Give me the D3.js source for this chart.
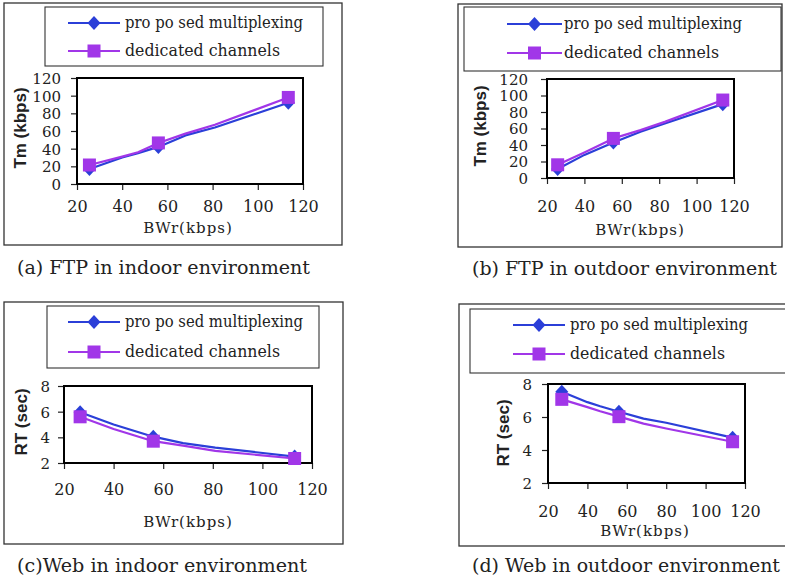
<!DOCTYPE html>
<html>
<head>
<meta charset="utf-8">
<script src="https://cdn.jsdelivr.net/npm/d3@7"></script>
<style>
  body { margin: 0; background: #fff; }
  svg { display: block; }
</style>
</head>
<body>
<svg id="chart" width="785" height="580"></svg>
<script>
// series names
var seriesNames = ["pro po sed multiplexing", "dedicated channels"];

// (a) FTP indoor
var ftpInBw  = [25.5, 40, 47, 56, 68, 81, 113.5];
var ftpInMux = [17, 30, 35, 42, 55, 64, 92];
var ftpInDed = [21.5, 31, 36, 46.5, 57, 67, 98];
var ftpInMarks = [0, 3, 6];

// (b) FTP outdoor
var ftpOutBw  = [25.7, 40, 55.5, 70, 83, 114];
var ftpOutMux = [11, 28, 43, 56, 66, 89.5];
var ftpOutDed = [16, 31, 48, 58, 68, 94.5];
var ftpOutMarks = [0, 2, 5];

// (c) Web indoor
var webInBw  = [26.5, 40, 56, 68, 81, 113];
var webInMux = [5.95, 5.0, 4.05, 3.55, 3.2, 2.5];
var webInDed = [5.6, 4.65, 3.7, 3.35, 2.95, 2.35];
var webInMarks = [0, 2, 5];

// (d) Web outdoor
var webOutBw  = [27, 40, 46.5, 56, 68.5, 80, 113.7];
var webOutMux = [7.53, 6.9, 6.65, 6.32, 5.9, 5.65, 4.75];
var webOutDed = [7.07, 6.6, 6.35, 6.02, 5.6, 5.3, 4.5];
var webOutMarks = [0, 3, 6];

var xTicks = [20, 40, 60, 80, 100, 120];
var tmTicks = [0, 20, 40, 60, 80, 100, 120];
var rtTicks = [2, 4, 6, 8];

var blue = "#2b3fd8", purple = "#a136e8";

var panels = [
  { bw: ftpInBw, mux: ftpInMux, ded: ftpInDed, marks: ftpInMarks,
    yDom: [0, 120], yTicks: tmTicks, yTitle: "Tm (kbps)",
    caption: "(a) FTP in indoor environment",
    frame: [4, 3, 342, 245], legend: [45, 7, 323, 66], rows: [23, 51], lx: [68, 120, 125],
    plot: [77, 78, 303, 184], xPad: 11, yPad: 10,
    yt: [20, 128], xt: [188, 233], cap: [17, 274, 293] },
  { bw: ftpOutBw, mux: ftpOutMux, ded: ftpOutDed, marks: ftpOutMarks,
    yDom: [0, 120], yTicks: tmTicks, yTitle: "Tm (kbps)",
    caption: "(b) FTP in outdoor environment",
    frame: [458, 4, 782, 247], legend: [464, 7, 781, 71], rows: [24, 53], lx: [507, 562, 564],
    plot: [547, 79, 734, 178], xPad: 17, yPad: 13,
    yt: [480, 126], xt: [640, 235], cap: [472, 275, 305] },
  { bw: webInBw, mux: webInMux, ded: webInDed, marks: webInMarks,
    yDom: [2, 8], yTicks: rtTicks, yTitle: "RT (sec)",
    caption: "(c)Web in indoor environment",
    frame: [4, 302, 343, 544], legend: [47, 306, 319, 368], rows: [322, 352], lx: [68, 120, 125],
    plot: [64, 386, 312, 463], xPad: 15, yPad: 8,
    yt: [21, 422], xt: [188, 527], cap: [17, 572, 290] },
  { bw: webOutBw, mux: webOutMux, ded: webOutDed, marks: webOutMarks,
    yDom: [2, 8], yTicks: rtTicks, yTitle: "RT (sec)",
    caption: "(d) Web in outdoor environment",
    frame: [459, 304, 790, 546], legend: [470, 309, 790, 373], rows: [325, 354], lx: [513, 565, 570],
    plot: [548, 384, 745, 483], xPad: 17, yPad: 10,
    yt: [503, 433], xt: [645, 536], cap: [472, 572, 308] }
];

var svg = d3.select("#chart");
var serif = "'DejaVu Serif', serif";
var sans = "'Liberation Sans', Arial, sans-serif";

function marker(g, kind, cx, cy, color) {
  if (kind == 0) {
    g.append("path")
      .attr("d", "M" + cx + "," + (cy - 7) + "L" + (cx + 6.5) + "," + cy + "L" + cx + "," + (cy + 7) + "L" + (cx - 6.5) + "," + cy + "Z")
      .attr("fill", color);
  } else {
    g.append("rect")
      .attr("x", cx - 6.5).attr("y", cy - 6.5)
      .attr("width", 13).attr("height", 13)
      .attr("fill", color);
  }
}

panels.forEach(function(p) {
  var g = svg.append("g");

  // outer frame
  g.append("rect")
    .attr("x", p.frame[0]).attr("y", p.frame[1])
    .attr("width", p.frame[2] - p.frame[0]).attr("height", p.frame[3] - p.frame[1])
    .attr("fill", "none").attr("stroke", "#333").attr("stroke-width", 1.3);

  // legend
  g.append("rect")
    .attr("x", p.legend[0]).attr("y", p.legend[1])
    .attr("width", p.legend[2] - p.legend[0]).attr("height", p.legend[3] - p.legend[1])
    .attr("fill", "none").attr("stroke", "#333").attr("stroke-width", 1.1);

  var legWidths = [178, 155];
  [blue, purple].forEach(function(c, i) {
    var ry = p.rows[i];
    g.append("line")
      .attr("x1", p.lx[0]).attr("x2", p.lx[1])
      .attr("y1", ry).attr("y2", ry)
      .attr("stroke", c).attr("stroke-width", 2);
    marker(g, i, (p.lx[0] + p.lx[1]) / 2, ry, c);
    g.append("text")
      .attr("x", p.lx[2]).attr("y", ry + 5)
      .attr("font-family", serif).attr("font-size", 17)
      .attr("fill", "#222")
      .attr("textLength", legWidths[i]).attr("lengthAdjust", "spacingAndGlyphs")
      .text(seriesNames[i]);
  });

  // scales
  var x = d3.scaleLinear().domain([20, 120]).range([p.plot[0], p.plot[2]]);
  var y = d3.scaleLinear().domain(p.yDom).range([p.plot[3], p.plot[1]]);

  var yAxis = g.append("g")
    .attr("transform", "translate(" + p.plot[0] + ",0)")
    .call(d3.axisLeft(y).tickValues(p.yTicks).tickFormat(d3.format("d"))
      .tickSize(6).tickSizeOuter(0).tickPadding(p.yPad));
  var xAxis = g.append("g")
    .attr("transform", "translate(0," + p.plot[3] + ")")
    .call(d3.axisBottom(x).tickValues(xTicks).tickFormat(d3.format("d"))
      .tickSize(6).tickSizeOuter(0).tickPadding(p.xPad));
  [xAxis, yAxis].forEach(function(a) {
    a.select(".domain").remove();
    a.selectAll(".tick line").attr("stroke", "#222").attr("stroke-width", 1.2);
    a.selectAll("text").attr("font-family", serif).attr("font-size", 16).attr("fill", "#222");
  });
  yAxis.selectAll("text").attr("font-size", 15).attr("dy", "0.36em");

  // plot border
  g.append("rect")
    .attr("x", p.plot[0]).attr("y", p.plot[1])
    .attr("width", p.plot[2] - p.plot[0]).attr("height", p.plot[3] - p.plot[1])
    .attr("fill", "none").attr("stroke", "#000").attr("stroke-width", 2);

  // series
  var line = d3.line().x(function(d) { return x(d[0]); }).y(function(d) { return y(d[1]); });
  [[p.mux, blue], [p.ded, purple]].forEach(function(s) {
    var pts = p.bw.map(function(b, k) { return [b, s[0][k]]; });
    g.append("path").datum(pts)
      .attr("d", line).attr("fill", "none")
      .attr("stroke", s[1]).attr("stroke-width", 2.2)
      .attr("stroke-linejoin", "round");
  });
  [[p.mux, blue], [p.ded, purple]].forEach(function(s, i) {
    p.marks.forEach(function(k) {
      marker(g, i, x(p.bw[k]), y(s[0][k]), s[1]);
    });
  });

  // axis titles
  g.append("text")
    .attr("transform", "translate(" + (p.yt[0] + 6) + "," + p.yt[1] + ") rotate(-90)")
    .attr("text-anchor", "middle")
    .attr("font-family", sans).attr("font-size", 17).attr("font-weight", "bold")
    .attr("fill", "#222")
    .text(p.yTitle);
  g.append("text")
    .attr("x", p.xt[0]).attr("y", p.xt[1])
    .attr("text-anchor", "middle")
    .attr("font-family", serif).attr("font-size", 15).attr("fill", "#222")
    .attr("letter-spacing", 1)
    .text("BWr(kbps)");

  // caption
  g.append("text")
    .attr("x", p.cap[0]).attr("y", p.cap[1])
    .attr("font-family", serif).attr("font-size", 18).attr("fill", "#222")
    .attr("textLength", p.cap[2]).attr("lengthAdjust", "spacingAndGlyphs")
    .text(p.caption);
});
</script>
</body>
</html>
